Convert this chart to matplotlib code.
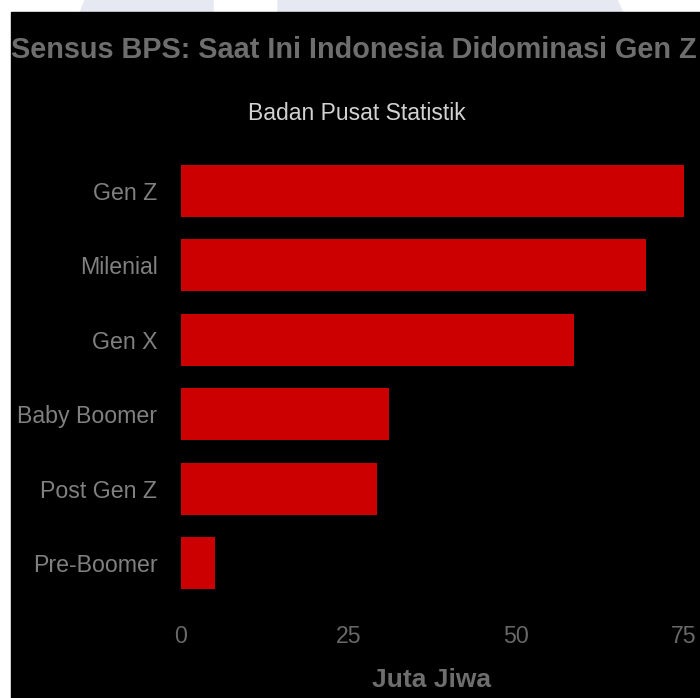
import matplotlib
matplotlib.use("Agg")
import matplotlib.pyplot as plt
from matplotlib.patches import Rectangle, Polygon

categories = ["Gen Z", "Milenial", "Gen X", "Baby Boomer", "Post Gen Z", "Pre-Boomer"]
values = [74.93, 69.38, 58.65, 31.01, 29.17, 5.03]
xticks = [0, 25, 50, 75]
title = "Sensus BPS: Saat Ini Indonesia Didominasi Gen Z"
subtitle = "Badan Pusat Statistik"
xlabel = "Juta Jiwa"

W, H = 700, 698
plt.rcParams["font.family"] = ["Liberation Sans", "DejaVu Sans"]
fig = plt.figure(figsize=(W / 100, H / 100), dpi=100, facecolor="white")

# faint watermark bands in the white strip (pixel coords, y from top)
def px(x, y):
    return (x / W, 1 - y / H)

for pts in [[(80, 13), (85, 0), (213, 0), (213, 13)],
            [(278, 13), (278, 0), (617, 0), (623, 13)]]:
    fig.patches.append(Polygon([px(*p) for p in pts], closed=True,
                               transform=fig.transFigure, color="#e6e9f1", zorder=-3))
# black panel
fig.patches.append(Rectangle((11 / W, 0), 1, 1 - 12 / H, transform=fig.transFigure,
                             color="black", zorder=-2))

top_px, bot_px = 150, 610
ax = fig.add_axes([181 / W, 1 - bot_px / H, (W - 181) / W, (bot_px - top_px) / H])
ax.set_facecolor("black")
ypos = list(range(len(categories)))
ax.barh(ypos, values, height=0.7, color="#cc0000", zorder=3)
ax.set_xlim(0, (W - 181) / ((684 - 181) / 75))
step = 74.4
ax.set_ylim((bot_px - 191) / step, (top_px - 191) / step)
ax.set_yticks(ypos)
ax.set_yticklabels(categories, color="#808080", fontsize=16.7)
ax.set_xticks(xticks)
ax.set_xticklabels([str(t) for t in xticks], color="#686868", fontsize=16.7)
ax.tick_params(axis="y", length=0, pad=17)
ax.tick_params(axis="x", length=0, pad=11)
for s in ax.spines.values():
    s.set_visible(False)

fig.text(11 / W, 1 - 50 / H, title, fontsize=20.75, fontweight="bold", color="#6e6e6e",
         ha="left", va="center")
fig.text(357 / W, 1 - 113 / H, subtitle, fontsize=16.5, color="#d2d2d2",
         ha="center", va="center")
fig.text(432 / W, 1 - 680 / H, xlabel, fontsize=19, fontweight="bold", color="#6e6e6e",
         ha="center", va="center")

fig.savefig("out.png", dpi=100, facecolor="white")
